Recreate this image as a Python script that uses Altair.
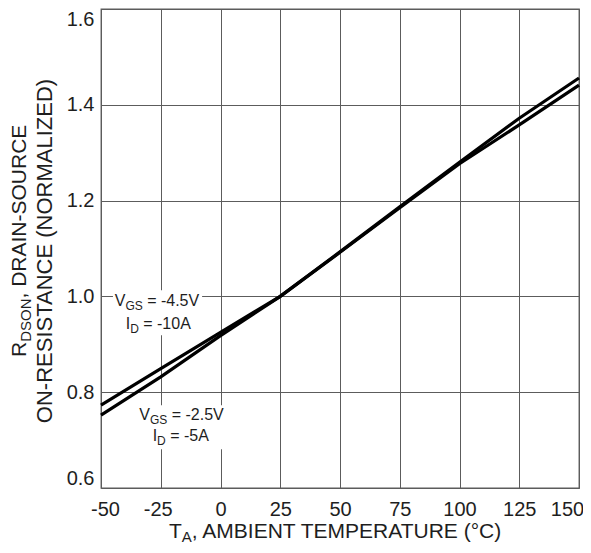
import altair as alt
import pandas as pd

# ---------------- data ----------------
temps = [-50, -25, 0, 25, 50, 75, 100, 125, 150]
r_vgs45 = [0.773, 0.849, 0.925, 1.000, 1.092, 1.185, 1.277, 1.358, 1.441]
r_vgs25 = [0.752, 0.832, 0.918, 1.000, 1.093, 1.187, 1.280, 1.372, 1.456]
series = ["VGS = -4.5V, ID = -10A", "VGS = -2.5V, ID = -5A"]

x_ticks = [-50, -25, 0, 25, 50, 75, 100, 125, 150]
y_ticks = [0.6, 0.8, 1.0, 1.2, 1.4, 1.6]

x_title = ["T", "A", ", AMBIENT TEMPERATURE (°C)"]
y_title1 = ["R", "DSON", ", DRAIN-SOURCE"]
y_title2 = "ON-RESISTANCE (NORMALIZED)"

label_a = [["V", "GS", "= -4.5V"], ["I", "D", "= -10A"]]
label_b = [["V", "GS", "= -2.5V"], ["I", "D", "= -5A"]]
anchor_a = (-25, 1.0)
anchor_b = (0, 0.8)
mask_a = (-45, -7.7, 0.919, 1.013)
mask_b = (-35.8, 1.9, 0.681, 0.773)

# ---------------- style ----------------
W, H = 478, 479
FONT = "Liberation Sans"
INK = "#1e1e1e"
GRID = "#5c5c5c"

xs = alt.Scale(domain=[-50, 150], nice=False, zero=False)
ys = alt.Scale(domain=[0.6, 1.6], nice=False, zero=False)

x_axis = alt.Axis(
    values=x_ticks, title=None, grid=True, gridColor=GRID, gridWidth=1,
    ticks=False, tickSize=0, domain=False, labelFont=FONT, labelFontSize=20,
    labelColor=INK, labelPadding=11, labelFlush=False,
    labelExpr="'' + datum.value",
    labelOffset={"condition": [
        {"test": "datum.value === -50", "value": 4},
        {"test": "datum.value === -25", "value": -3},
        {"test": "datum.value === 150", "value": -12}], "value": 0},
)
y_axis = alt.Axis(
    values=y_ticks, format=".1f", title=None, grid=True, gridColor=GRID,
    gridWidth=1, ticks=False, tickSize=0, domain=False, labelFont=FONT,
    labelFontSize=20, labelColor=INK, labelPadding=7, labelFlush=True,
)


def X(field):
    return alt.X(field, type="quantitative", scale=xs, axis=x_axis)


def Y(field):
    return alt.Y(field, type="quantitative", scale=ys, axis=y_axis)


df = pd.DataFrame({
    "T": temps * 2,
    "R": r_vgs45 + r_vgs25,
    "s": [series[0]] * len(temps) + [series[1]] * len(temps),
})

lines = alt.Chart(df).mark_line(color="black", strokeWidth=3.2).encode(
    x=X("T"), y=Y("R"), detail="s:N"
)

mdf = pd.DataFrame({
    "T": [mask_a[0], mask_b[0]], "T2": [mask_a[1], mask_b[1]],
    "R": [mask_a[2], mask_b[2]], "R2": [mask_a[3], mask_b[3]],
})
masks = alt.Chart(mdf).mark_rect(color="white").encode(
    x=X("T"), x2="T2", y=Y("R"), y2="R2"
)

layers = [masks]


def ann(anchor, text, size, dx, dy):
    d = pd.DataFrame({"T": [anchor[0]], "R": [anchor[1]], "t": [text]})
    return alt.Chart(d).mark_text(
        align="left", baseline="alphabetic", font=FONT, fontSize=size,
        color=INK, dx=dx, dy=dy
    ).encode(x=X("T"), y=Y("R"), text="t:N")


def two_line_label(anchor, pieces, starts, base_dy):
    out = []
    for (main, sub, rest), x0, dy in zip(pieces, starts, base_dy):
        w_main = 10.7 if main == "V" else 4.4
        w_sub = 17.3 if sub == "GS" else 8.7
        out.append(ann(anchor, main, 16, x0, dy))
        out.append(ann(anchor, sub, 12, x0 + w_main, dy + 4.2))
        out.append(ann(anchor, rest, 16, x0 + w_main + w_sub + 4.4, dy))
    return out


layers += two_line_label(anchor_a, label_a, [-46, -35], [9.8, 32.4])
layers += two_line_label(anchor_b, label_b, [-81.2, -67.8], [27.8, 48.8])
layers.append(lines)


def title_text(text, size, x, y, angle=0, align="left"):
    props = dict(align=align, baseline="alphabetic", font=FONT,
                 fontSize=size, color=INK)
    if angle:
        props["angle"] = angle
    return alt.Chart(pd.DataFrame({"t": [text]})).mark_text(**props).encode(
        x=alt.value(x), y=alt.value(y), text="t:N"
    )


# x title (T_A, ...)
xt0 = 68
layers.append(title_text(x_title[0], 21, xt0, 528.5))
layers.append(title_text(x_title[1], 15, xt0 + 12.8, 533))
layers.append(title_text(x_title[2], 21, xt0 + 12.8 + 10.0, 528.5))

# y title line 1 (R_DSON, ...), rotated
yt0 = 348
layers.append(title_text(y_title1[0], 21, -75.5, yt0, angle=270))
layers.append(title_text(y_title1[1], 15, -70.0, yt0 - 15.2, angle=270))
layers.append(title_text(y_title1[2], 21, -75.5, yt0 - 15.2 - 43.3, angle=270))
# y title line 2
layers.append(title_text(y_title2, 22, -49.3, 242, angle=270, align="center"))

chart = alt.layer(*layers).properties(
    width=W, height=H,
    autosize=alt.AutoSizeParams(type="none"),
    padding={"left": 93, "top": 1, "right": 4, "bottom": 56},
    background="white",
).configure_view(stroke=GRID, strokeWidth=1.3)

chart.save("out.html", embed_options={"renderer": "svg", "actions": False})
